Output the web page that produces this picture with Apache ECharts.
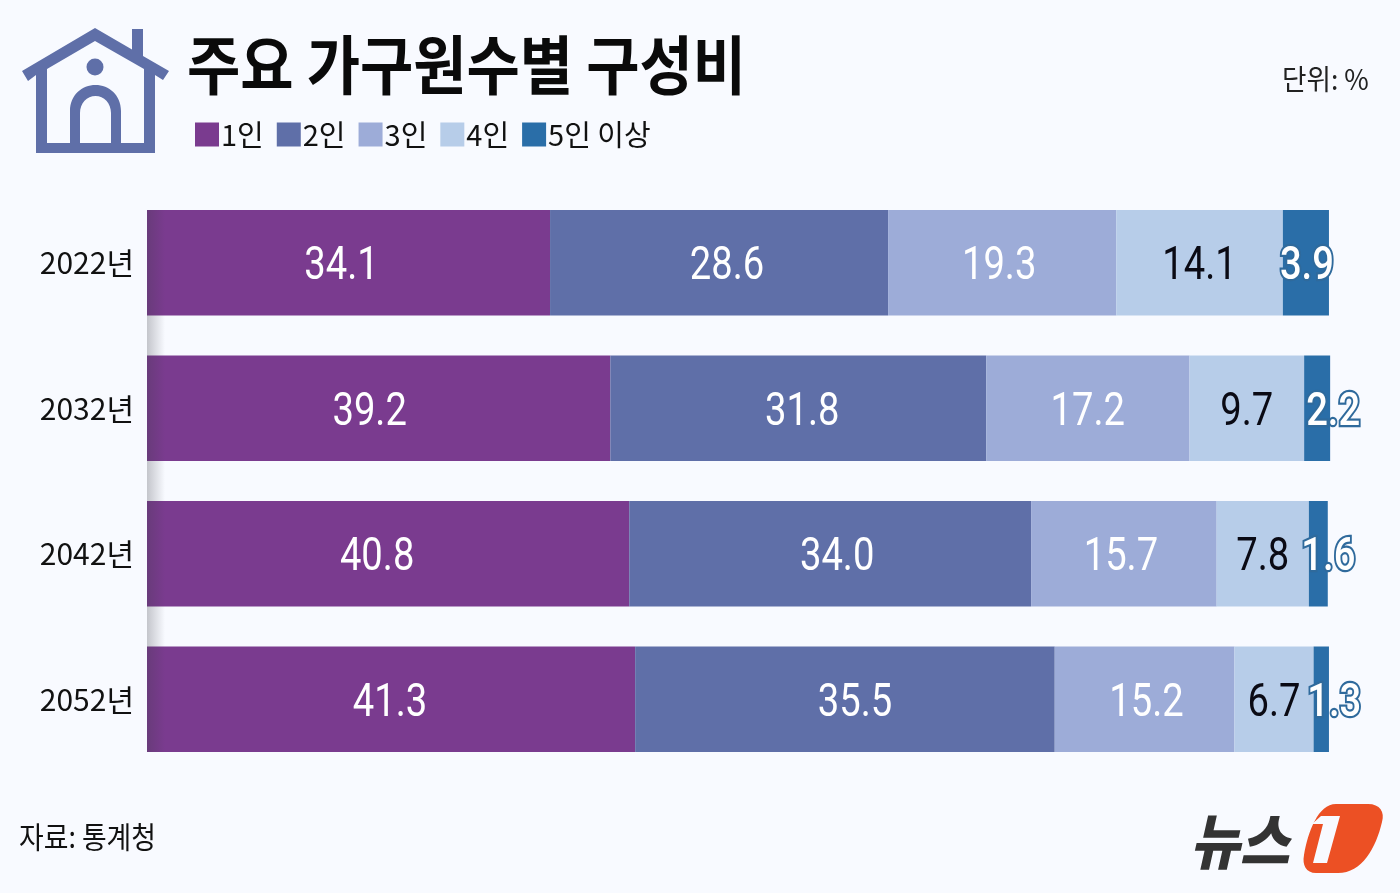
<!DOCTYPE html>
<html><head><meta charset="utf-8">
<script src="https://cdn.jsdelivr.net/npm/echarts@6/dist/echarts.min.js"></script>
<style>html,body{margin:0;padding:0;background:#f8faff}#c{width:1400px;height:893px}</style>
</head><body><div id="c"></div>
<script>
const years = ['2022년','2032년','2042년','2052년'];
const groups = ['1인','2인','3인','4인','5인 이상'];
const one = [34.1,39.2,40.8,41.3];
const two = [28.6,31.8,34.0,35.5];
const three = [19.3,17.2,15.7,15.2];
const four = [14.1,9.7,7.8,6.7];
const five = [3.9,2.2,1.6,1.3];
const colors = ['#7a3b8f','#5f6fa8','#9dacd8','#b7cde9','#2a6ea8'];
const KR = '"Noto Sans CJK KR"';
const NUM = 'Roboto';
const bg = '#f8faff';
const seriesVals = [one,two,three,four,five];
const shifts = [[-7,8,-3,0,1],[-9,4,0,0,16],[-11,7,-3,0,10],[-1,10,2,0,13]];
const reg = (name,d)=>echarts.graphic.registerShape(name,echarts.graphic.extendPath(d,{}));
reg('houseBody','M95 28 L132 49.5 L132 29 L143 29 L143 56 L169 71 L163 80 L155 75 L155 153 L36 153 L36 75 L28 81 L22 71 Z M95 41 L47 69 L47 143 L144 143 L144 69 Z');
reg('houseArch','M70 143 V111 C70 95 82 85 95.5 85 C109 85 121 95 121 111 V143 H111 V113 C111 103 104 96 95.5 96 C87 96 80 103 80 113 V143 Z');
reg('logoBack','M1336 804 L1368 804 C1380 804 1385 812 1382 822 C1376 848 1362 873 1338 873 L1316 873 C1306 873 1302 865 1304 855 C1308 832 1318 804 1336 804 Z');
reg('logoOne','M1312 824 L1321 816 L1340 816 L1327 863 L1313 863 L1323 824 Z');
const bars = groups.map((g,i)=>({
  name:g,type:'bar',stack:'t',barWidth:105.5,
  itemStyle:{color:colors[i]},
  data:seriesVals[i]
}));
// centre of every segment on the value axis, for the value labels
const labelRows = [];
years.forEach((y,r)=>{
  let start = 0;
  seriesVals.forEach((vals,i)=>{
    labelRows.push([start + vals[r]/2, r, vals[r], i]);
    start += vals[r];
  });
});
const labels = {
  type:'custom',silent:true,z:10,
  encode:{x:0,y:1},
  data:labelRows,
  renderItem:(params,api)=>{
    const r = api.value(1), i = api.value(3);
    const p = api.coord([api.value(0), r]);
    const outlined = i===4;
    return {
      type:'text',x:p[0]+shifts[r][i],y:p[1]+5,scaleX:0.83,
      style:{
        text:api.value(2).toFixed(1),align:'center',verticalAlign:'middle',
        fontFamily:NUM,fontWeight:outlined?500:400,fontSize:46,
        fill:i===3?'#0a0a14':'#fff',
        ...(outlined?{stroke:'#2f6a9c',lineWidth:4.5,strokeFirst:true}:{})
      }
    };
  }
};
const chart = echarts.init(document.getElementById('c'));
chart.setOption({
  animation:false,backgroundColor:bg,
  legend:{left:195,top:120,padding:0,itemWidth:24,itemHeight:24,itemGap:13,icon:'rect',
    data:groups,selectedMode:false,
    textStyle:{fontFamily:KR,fontSize:29,color:'#111',padding:[0,0,0,-3]}},
  grid:{left:147,top:190,width:1205.6,height:582},
  xAxis:{type:'value',min:0,max:102,show:false},
  yAxis:{type:'category',inverse:true,data:years,
    axisLine:{show:false},axisTick:{show:false},
    axisLabel:{fontFamily:KR,fontSize:30,color:'#111',margin:13}},
  series:[...bars,labels],
  graphic:[
    {type:'houseBody',style:{fill:'#5f6fa8'}},
    {type:'circle',shape:{cx:95,cy:67,r:8.5},style:{fill:'#5f6fa8'}},
    {type:'houseArch',style:{fill:'#5f6fa8'}},
    {type:'text',x:187,y:33,scaleX:0.905,style:{text:'주요 가구원수별 구성비',fontFamily:KR,fontWeight:700,fontSize:64,fill:'#0a0a0a'}},
    {type:'text',x:1282,y:65,scaleX:0.95,style:{text:'단위: %',fontFamily:KR,fontSize:28,fill:'#222'}},
    {type:'text',x:19,y:822,scaleX:0.895,style:{text:'자료: 통계청',fontFamily:KR,fontSize:30,fill:'#111'}},
    {type:'rect',z:20,shape:{x:147,y:210,width:18,height:542},style:{fill:new echarts.graphic.LinearGradient(0,0,1,0,[{offset:0,color:'rgba(60,60,70,0.28)'},{offset:1,color:'rgba(60,60,70,0)'}])}},
    {type:'text',x:1190,y:811,scaleY:1.12,style:{text:'뉴스',fontFamily:KR,fontStyle:'italic',fontWeight:900,fontSize:54,fill:'#333'}},
    {type:'logoBack',style:{fill:'#ec5024'}},
    {type:'logoOne',style:{fill:bg}}
  ]
});
</script></body></html>
